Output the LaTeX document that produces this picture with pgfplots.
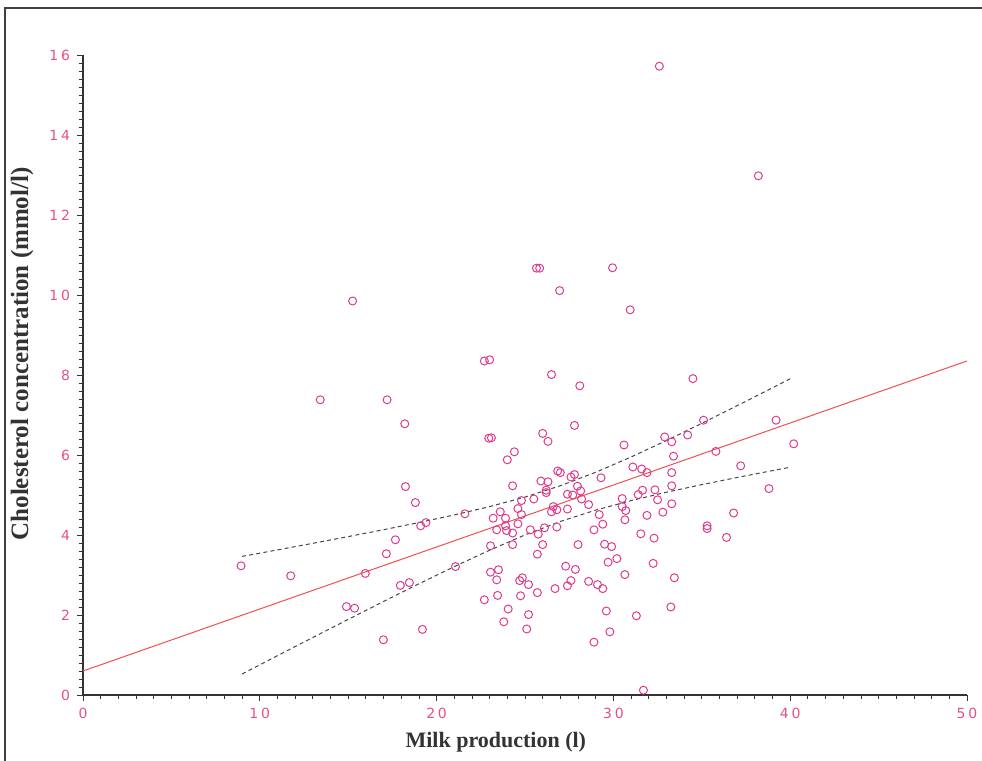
\documentclass[border=0pt]{standalone}
\usepackage{fontspec}
\setmainfont{Liberation Serif}
\newfontfamily\tickfont[LetterSpace=20]{DejaVu Sans}
\usepackage{pgfplots}
\pgfplotsset{compat=1.18}
\definecolor{ptpink}{RGB}{222,60,140}
\definecolor{tkpink}{RGB}{232,80,135}
\definecolor{rline}{RGB}{240,80,80}
\definecolor{dgray}{RGB}{70,70,70}
\newcommand\tickfnt{\tickfont\fontsize{7}{8}\selectfont}
\begin{document}
\begin{tikzpicture}
\path[use as bounding box] (-41.5pt,-33pt) rectangle (449.5pt,347.5pt);
\draw[black!75, line width=0.9pt] (-39pt,-33pt) -- (-39pt,343.5pt) -- (449.5pt,343.5pt);
\begin{axis}[
  at={(0,0)}, anchor=south west, scale only axis,
  width=442pt, height=320pt,
  xmin=0, xmax=50, ymin=0, ymax=16,
  axis x line*=bottom, axis y line*=left,
  xtick={0,10,...,50}, ytick={0,2,...,16},
  minor x tick num=9, minor y tick num=9,
  tick align=outside, major tick length=3pt, minor tick length=2pt,
  tick style={black!80, line width=0.4pt},
  axis line style={black!80, line width=0.6pt},
  ticklabel style={font=\tickfnt, text=tkpink},
  /pgf/number format/assume math mode=true,
  xlabel={Milk production (l)},
  ylabel={Cholesterol concentration (mmol/l)},
  xlabel style={at={(axis description cs:0.467,-0.073)}, anchor=center, font=\bfseries\fontsize{11}{13}\selectfont, text=black!80},
  ylabel style={at={(axis description cs:-0.069,0.533)}, anchor=center, font=\bfseries\fontsize{12.5}{14}\selectfont, text=black!80},
  clip=false,
]
\addplot[only marks, mark=o, mark size=2pt, ptpink, line width=0.5pt] coordinates {
(8.94,3.23) (11.75,2.98) (13.42,7.38) (17.20,7.38) (15.25,9.85) (18.2,6.78) (18.24,5.21) (18.8,4.81)
(14.9,2.21) (15.36,2.17) (15.97,3.04) (17.16,3.53) (17.67,3.88) (17.95,2.74) (18.46,2.81) (16.99,1.38)
(19.2,1.64) (19.1,4.23) (19.4,4.31)
(22.7,8.35) (23.0,8.38) (26.5,8.01) (28.1,7.73) (27.8,6.74) (22.95,6.42) (23.1,6.43) (26.0,6.54)
(26.3,6.34) (24.4,6.08) (24.0,5.88) (26.85,5.60) (27.0,5.56) (24.3,5.23) (25.9,5.35) (26.3,5.33)
(26.2,5.12) (26.2,5.06) (27.6,5.45) (27.8,5.51) (29.3,5.43) (27.97,5.22) (28.15,5.10) (27.4,5.02)
(27.7,5.00) (28.2,4.90) (28.6,4.76) (25.5,4.90) (24.8,4.86) (24.6,4.66) (24.8,4.51) (21.6,4.53)
(23.6,4.58) (23.2,4.42) (23.9,4.42) (24.6,4.28) (23.9,4.23) (23.4,4.13) (23.96,4.11) (24.3,4.05)
(26.6,4.71) (26.8,4.63) (26.5,4.58) (27.4,4.65) (29.2,4.51) (29.4,4.27) (28.9,4.13) (25.3,4.13)
(25.75,4.02) (26.1,4.18) (26.8,4.20)
(23.05,3.73) (24.3,3.76) (26.0,3.76) (25.7,3.52) (28.0,3.76) (29.5,3.77) (29.9,3.71) (29.7,3.32)
(30.2,3.41) (21.07,3.21) (23.05,3.07) (23.5,3.13) (23.4,2.88) (24.7,2.86) (24.85,2.93) (25.2,2.76)
(27.3,3.22) (27.85,3.14) (27.6,2.86) (27.4,2.73) (26.7,2.66) (25.7,2.56) (28.6,2.84) (29.1,2.76)
(29.4,2.66) (22.7,2.38) (23.45,2.49) (24.75,2.48) (24.05,2.15) (25.2,2.01) (23.8,1.83) (25.1,1.65)
(29.6,2.10) (29.8,1.58) (28.9,1.32)
(34.5,7.91) (30.6,6.25) (32.9,6.45) (33.3,6.33) (34.2,6.50) (35.1,6.87) (39.2,6.87) (40.2,6.28)
(35.8,6.09) (33.4,5.97) (31.1,5.70) (31.6,5.65) (31.9,5.56) (33.3,5.56) (37.2,5.73) (33.3,5.23)
(31.65,5.12) (31.4,5.01) (32.35,5.13) (32.5,4.88) (33.3,4.78) (30.5,4.91) (30.5,4.71) (30.7,4.61)
(30.65,4.38) (31.9,4.49) (32.8,4.57) (38.8,5.16) (36.8,4.55) (35.3,4.23) (35.3,4.16) (31.55,4.03)
(32.3,3.92) (36.4,3.94)
(30.65,3.01) (32.25,3.29) (33.45,2.93) (31.3,1.98) (33.25,2.20) (31.7,0.12)
(25.65,10.67) (25.83,10.67) (29.95,10.68) (26.96,10.11) (30.95,9.63) (32.6,15.72) (38.2,12.98)
};
\addplot[rline, line width=0.5pt] coordinates {(0,0.6) (50,8.35)};
\addplot[dgray, line width=0.5pt, dash pattern=on 2pt off 1.6pt] coordinates {
(9,3.465) (11,3.627) (13,3.792) (15,3.960) (17,4.132) (19,4.311) (21,4.501) (23,4.710) (25,4.948)
(27,5.232) (29,5.568) (31,5.950) (33,6.361) (35,6.791) (37,7.232) (39,7.680) (40,7.906)};
\addplot[dgray, line width=0.5pt, dash pattern=on 2pt off 1.6pt] coordinates {
(9,0.525) (11,0.983) (13,1.438) (15,1.890) (17,2.338) (19,2.779) (21,3.209) (23,3.620) (25,4.002)
(27,4.338) (29,4.622) (31,4.860) (33,5.069) (35,5.259) (37,5.438) (39,5.610) (40,5.694)};
\end{axis}
\end{tikzpicture}
\end{document}
